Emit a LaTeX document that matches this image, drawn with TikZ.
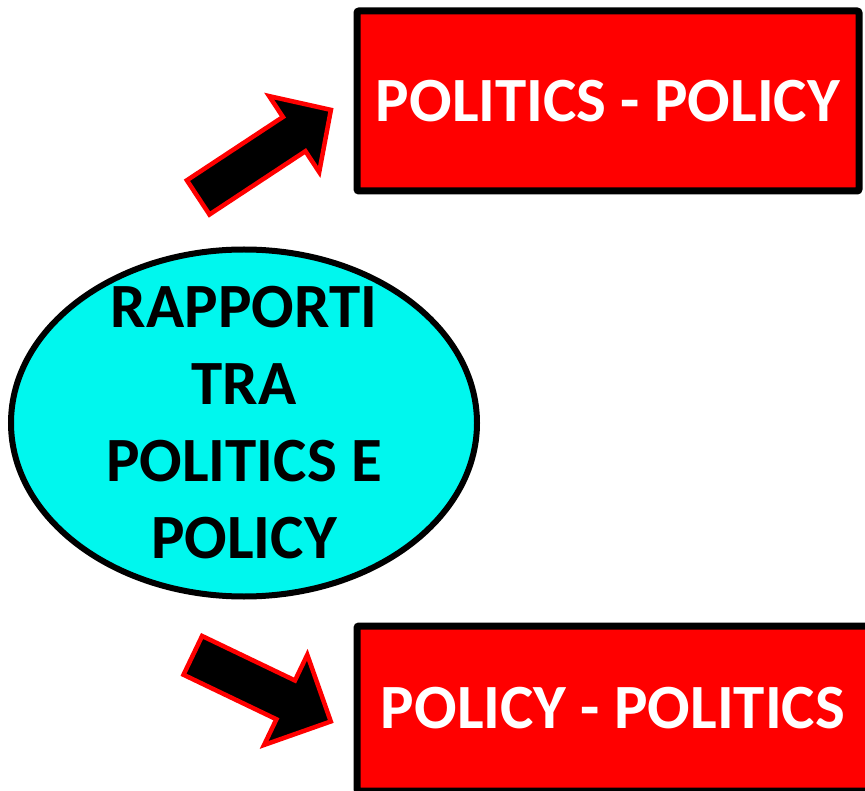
\documentclass[tikz,border=0pt]{standalone}
\usepackage{fontspec}
\setmainfont{Carlito}
\usetikzlibrary{shapes.geometric}
\definecolor{boxred}{RGB}{255,0,0}
\definecolor{ovalcyan}{RGB}{0,247,238}
\tikzset{
  idea/.style={ellipse, draw=black, line width=6pt, fill=ovalcyan, inner xsep=0pt, inner ysep=-30pt,
    minimum width=466pt, minimum height=347pt, align=center,
    font=\fontsize{63}{77}\selectfont\bfseries},
  redbox/.style={rectangle, draw=black, line width=7pt, fill=boxred, rounded corners=2pt,
    inner sep=0pt, text=white, font=\fontsize{63}{75}\selectfont\bfseries},
  blockarrow/.style={draw=boxred, fill=black, line width=4.5pt, line join=miter}
}
\begin{document}
\begin{tikzpicture}[x=1pt,y=-1pt]
\useasboundingbox (0,0) rectangle (865,791);
\node[idea] (rapporti) at (244,423) {RAPPORTI\\TRA\\POLITICS E\\POLICY};
\node[redbox, minimum width=502pt, minimum height=180pt] (politicspolicy) at (608,101) {POLITICS - POLICY};
\node[redbox, minimum width=512pt, minimum height=165pt] (policypolitics) at (613,708.5) {POLICY - POLITICS};
% block arrows
\draw[blockarrow, shift={(196.5,198.5)}, rotate=33.4]
  (2,-20.5) -- (117,-20.5) -- (117,-45.5) -- (161,0) -- (117,45.5) -- (117,20.5) -- (2,20.5) -- cycle;
\draw[blockarrow, shift={(191,654.5)}, rotate=-25.6]
  (2,-21.5) -- (105,-21.5) -- (105,-50) -- (155,0) -- (105,50) -- (105,21.5) -- (2,21.5) -- cycle;
\end{tikzpicture}
\end{document}
